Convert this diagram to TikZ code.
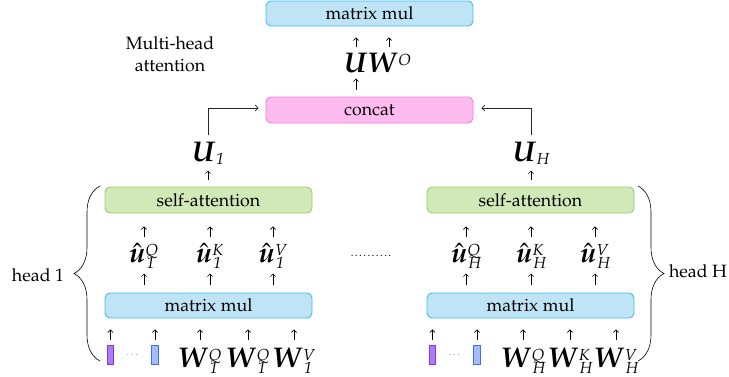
\documentclass[tikz,border=0pt]{standalone}
\usepackage[T1]{fontenc}
\usepackage{mathpazo}
\usepackage{amsmath}
\usetikzlibrary{arrows.meta,decorations.pathreplacing}

\definecolor{mmfill}{RGB}{190,228,246}
\definecolor{mmdraw}{RGB}{60,190,240}
\definecolor{ccfill}{RGB}{253,187,240}
\definecolor{ccdraw}{RGB}{245,125,222}
\definecolor{safill}{RGB}{209,233,183}
\definecolor{sadraw}{RGB}{155,205,115}
\definecolor{pufill}{RGB}{170,125,245}
\definecolor{pudraw}{RGB}{140,50,230}
\definecolor{blfill}{RGB}{165,190,250}
\definecolor{bldraw}{RGB}{60,110,245}

% symbol sizes and hand-placed scripts
\newcommand{\basesz}{\fontsize{28.5}{31}\selectfont}
\newcommand{\scrsz}{\fontsize{16}{18}\selectfont\itshape}
\newcommand{\bv}[1]{{\basesz$\boldsymbol{#1}$}}
\newcommand{\bh}[1]{{\basesz$\hat{\boldsymbol{#1}}$}}
\newcommand{\lsup}[1]{\raisebox{7.5pt}{\scrsz #1}}
\newcommand{\lsub}[1]{\raisebox{-3.5pt}{\scrsz #1}}
\newcommand{\subsup}[2]{%
  \setbox0\hbox{\scrsz #1}\setbox2\hbox{\scrsz #2}%
  \dimen0=\wd0 \ifdim\wd2>\dimen0 \dimen0=\wd2 \fi
  \rlap{\raisebox{6.5pt}{\copy0}}\rlap{\raisebox{-6.5pt}{\kern1pt\copy2}}%
  \kern\dimen0\kern1pt}

\tikzset{
  box/.style={rounded corners=5pt, minimum width=207pt, minimum height=25pt,
    line width=0.9pt, inner sep=0pt},
  mmbox/.style={box, fill=mmfill, draw=mmdraw},
  ccbox/.style={box, fill=ccfill, draw=ccdraw, minimum height=26pt},
  sabox/.style={box, fill=safill, draw=sadraw, minimum height=26pt},
  vecbar/.style={minimum width=6.5pt, minimum height=19pt, inner sep=0pt, line width=0.8pt},
  purplebar/.style={vecbar, fill=pufill, draw=pudraw},
  bluebar/.style={vecbar, fill=blfill, draw=bldraw},
  mlab/.style={inner sep=0pt, anchor=base},
  arr/.style={-{Straight Barb[length=2.6pt,width=5.2pt]}, line width=0.6pt},
  elbow/.style={-{Straight Barb[length=3pt,width=6pt]}, line width=0.7pt, draw=black!85},
  curly/.style={decorate, decoration={brace, amplitude=26pt}, line width=0.6pt},
}

\begin{document}
\begin{tikzpicture}[x=1pt, y=-1pt, font=\fontsize{17.8}{22}\selectfont]
\useasboundingbox (0,0) rectangle (729,376);

% output projection
\node[mmbox] (mmtop) at (369.5,13.5) {matrix mul};
\node[align=center, inner sep=0pt] (title) at (170,54) {Multi-head\\attention};
\node[mlab] (U) at (356,72.5) {\bv{U}};
\node[mlab] (WO) at (389,72.5) {\bv{W}\lsup{O}};
\node[ccbox] (concat) at (369.5,110) {concat};

\draw[arr] ([yshift=-21pt]mmtop.south -| U) -- ([yshift=-11pt]mmtop.south -| U);
\draw[arr] ([yshift=-21pt]mmtop.south -| WO) -- ([yshift=-11pt]mmtop.south -| WO);
\draw[arr] ([yshift=7pt]concat.north -| U) -- ([yshift=18pt]concat.north -| U);

% head outputs
\node[mlab] (u1) at (208,161) {\bv{U}\lsub{1}};
\node[mlab] (uH) at (531,161) {\bv{U}\lsub{H}};
\draw[elbow] ([yshift=-12pt]concat.south -| u1) |- ([xshift=-7pt,yshift=2pt]concat.west);
\draw[elbow] ([yshift=-12pt]concat.south -| uH) |- ([xshift=8pt,yshift=2pt]concat.east);

% head 1
\node[sabox] (sa1) at (208.5,200) {self-attention};
\node[mmbox] (mm1) at (208.5,305.5) {matrix mul};
\node[mlab] (q1) at (144,262) {\bh{u}\subsup{Q}{1}};
\node[mlab] (k1) at (210,262) {\bh{u}\subsup{K}{1}};
\node[mlab] (v1) at (273,262) {\bh{u}\subsup{V}{1}};
\node[purplebar] (x1a) at (110.5,354.5) {};
\node[bluebar] (x1b) at (155,354.5) {};
\node[inner sep=0pt, font=\fontsize{9}{10}\selectfont, text=black!60] (d1) at (133,355) {$\cdots$};
\node[mlab] (wq1) at (200,367) {\bv{W}\subsup{Q}{1}};
\node[mlab] (wk1) at (248,367) {\bv{W}\subsup{Q}{1}};
\node[mlab] (wv1) at (294,367) {\bv{W}\subsup{V}{1}};

\draw[arr] ([yshift=7pt]sa1.north -| u1) -- ([yshift=16pt]sa1.north -| u1);
\foreach \n in {q1,k1,v1}{
  \draw[arr] ([yshift=-24pt]sa1.south -| \n) -- ([yshift=-13pt]sa1.south -| \n);
  \draw[arr] ([yshift=8pt]mm1.north -| \n) -- ([yshift=19pt]mm1.north -| \n);
}
\foreach \n in {x1a,x1b,wq1,wk1,wv1}{
  \draw[arr] ([yshift=-22pt]mm1.south -| \n) -- ([yshift=-11pt]mm1.south -| \n);
}

% head H
\node[sabox] (saH) at (530.5,200) {self-attention};
\node[mmbox] (mmH) at (530.5,305.5) {matrix mul};
\node[mlab] (qH) at (466,262) {\bh{u}\subsup{Q}{H}};
\node[mlab] (kH) at (531,262) {\bh{u}\subsup{K}{H}};
\node[mlab] (vH) at (595,262) {\bh{u}\subsup{V}{H}};
\node[purplebar] (xHa) at (432.5,354.5) {};
\node[bluebar] (xHb) at (477,354.5) {};
\node[inner sep=0pt, font=\fontsize{9}{10}\selectfont, text=black!60] (dH) at (455,355) {$\cdots$};
\node[mlab] (wqH) at (523,367) {\bv{W}\subsup{Q}{H}};
\node[mlab] (wkH) at (570,367) {\bv{W}\subsup{K}{H}};
\node[mlab] (wvH) at (616,367) {\bv{W}\subsup{V}{H}};

\draw[arr] ([yshift=7pt]saH.north -| uH) -- ([yshift=16pt]saH.north -| uH);
\foreach \n in {qH,kH,vH}{
  \draw[arr] ([yshift=-24pt]saH.south -| \n) -- ([yshift=-13pt]saH.south -| \n);
  \draw[arr] ([yshift=8pt]mmH.north -| \n) -- ([yshift=19pt]mmH.north -| \n);
}
\foreach \n in {xHa,xHb,wqH,wkH,wvH}{
  \draw[arr] ([yshift=-22pt]mmH.south -| \n) -- ([yshift=-11pt]mmH.south -| \n);
}

% dots between the heads
\node[inner sep=0pt, font=\fontsize{11}{13}\selectfont] (gap) at (371,256)
  {\makebox[42pt]{\xleaders\hbox to 4pt{\hss.\hss}\hfill}};

% braces grouping each head
\coordinate (b1top) at (100,186);
\coordinate (b1bot) at (100,361);
\coordinate (bHtop) at (638,186);
\coordinate (bHbot) at (638,361);
\draw[curly] (b1bot) -- (b1top);
\draw[curly] (bHtop) -- (bHbot);
\node[inner sep=0pt] (h1) at (38,275) {head 1};
\node[inner sep=0pt] (hH) at (698,271) {head H};
\end{tikzpicture}
\end{document}
